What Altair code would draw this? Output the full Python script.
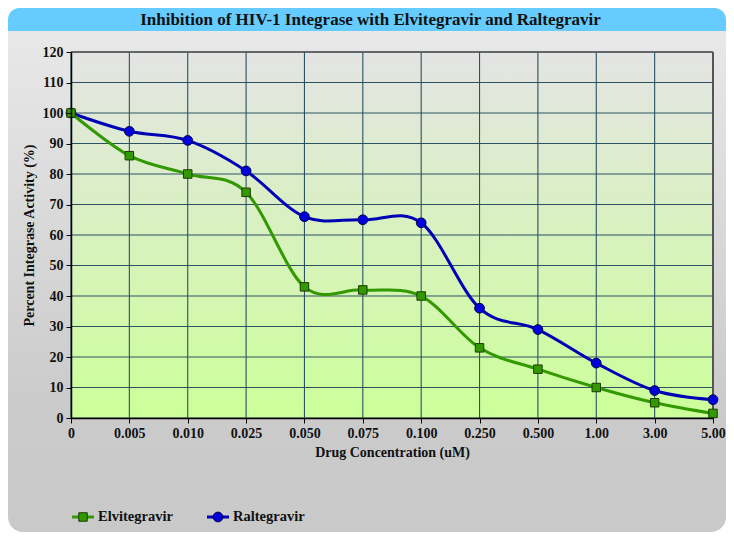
import altair as alt
import pandas as pd

# ---- data ----
concentrations = ["0", "0.005", "0.010", "0.025", "0.050", "0.075", "0.100",
                  "0.250", "0.500", "1.00", "3.00", "5.00"]
elvitegravir = [100, 86, 80, 74, 43, 42, 40, 23, 16, 10, 5, 1.5]
raltegravir = [100, 94, 91, 81, 66, 65, 64, 36, 29, 18, 9, 6]
series_names = ["Elvitegravir", "Raltegravir"]
line_colors = ["#339900", "#0000b4"]
marker_fills = ["#339900", "#0000dd"]
marker_strokes = ["#1c3d00", "#00004a"]
marker_shapes = ["square", "circle"]
marker_sizes = [72, 95]
y_ticks = list(range(0, 121, 10))
title_text = "Inhibition of HIV-1 Integrase with Elvitegravir and Raltegravir"
x_title = "Drug Concentration (uM)"
y_title = "Percent Integrase Activity (%)"

# ---- layout / style ----
W, H = 642, 366
PAD = {"left": 63, "top": 44, "right": 13, "bottom": 114}
FONT = "Liberation Serif"
GRID = "#2a5262"
TXT = "#111111"

rows = []
for name, vals in [("Raltegravir", raltegravir), ("Elvitegravir", elvitegravir)]:
    for i, (c, v) in enumerate(zip(concentrations, vals)):
        rows.append({"conc": c, "pct": v, "series": name, "idx": i})
data = pd.DataFrame(rows)
one = pd.DataFrame({"k": [0]})

x_scale = alt.Scale(type="point", padding=0, domain=concentrations)
y_scale = alt.Scale(domain=[0, 120], nice=False, zero=True)

x_axis = alt.Axis(
    title=x_title, labelAngle=0, labelFont=FONT, labelFontWeight="bold",
    labelFontSize=14, labelColor=TXT, labelPadding=3, tickSize=5,
    tickColor="#000", domainColor="#000", domainWidth=1.5, grid=False,
    titleFont=FONT, titleFontSize=14, titleFontWeight="bold", titleColor=TXT,
    titleY=34, titleBaseline="middle", zindex=1, labelOverlap=False,
)
y_axis = alt.Axis(
    title=y_title, values=y_ticks, labelFont=FONT, labelFontWeight="bold",
    labelFontSize=14, labelColor=TXT, labelPadding=3, tickSize=5,
    tickColor="#000", domainColor="#000", domainWidth=1.5, grid=False,
    titleFont=FONT, titleFontSize=14, titleFontWeight="bold", titleColor=TXT,
    titleX=-42, titleY=H / 2, titleAngle=270, titleAlign="center",
    titleBaseline="middle", zindex=1,
)

X = alt.X("conc:O", scale=x_scale, axis=x_axis)
Y = alt.Y("pct:Q", scale=y_scale, axis=y_axis)


def grad(stops):
    return alt.LinearGradient(
        gradient="linear", x1=0, y1=0, x2=0, y2=1,
        stops=[alt.GradientStop(color=c, offset=o) for o, c in stops],
    )


outer = alt.Chart(one).mark_rect(
    fill=grad([(0, "#eaeaea"), (0.75, "#cbcbcb"), (1, "#c9c9c9")]),
    cornerRadius=15,
).encode(x=alt.value(-PAD["left"]), x2=alt.value(W + PAD["right"]),
         y=alt.value(-PAD["top"]), y2=alt.value(H + PAD["bottom"]))

title_bar = alt.Chart(one).mark_rect(
    fill="#66ccff", cornerRadiusTopLeft=15, cornerRadiusTopRight=15,
).encode(x=alt.value(-PAD["left"]), x2=alt.value(W + PAD["right"]),
         y=alt.value(-PAD["top"]), y2=alt.value(-21))

title = alt.Chart(one).mark_text(
    text=title_text, font=FONT, fontWeight="bold", fontSize=17, color=TXT,
    align="center", baseline="middle",
).encode(x=alt.value(299.5), y=alt.value(-32))

plot_bg = alt.Chart(one).mark_rect(
    fill=grad([(0, "#e4e4e4"), (1, "#ccff99")]),
).encode(x=alt.value(0), x2=alt.value(W), y=alt.value(0), y2=alt.value(H))

vgrid = alt.Chart(pd.DataFrame({"conc": concentrations})).mark_rule(
    color=GRID, strokeWidth=1.1
).encode(x=X)

hgrid = alt.Chart(pd.DataFrame({"pct": y_ticks})).mark_rule(
    color=GRID, strokeWidth=1.1
).encode(y=Y)

top_border = alt.Chart(pd.DataFrame({"pct": [y_ticks[-1]]})).mark_rule(
    color="#555555", strokeWidth=1.5
).encode(y=Y)

right_border = alt.Chart(pd.DataFrame({"conc": [concentrations[-1]]})).mark_rule(
    color="#555555", strokeWidth=2
).encode(x=X)

lines = alt.Chart(data).mark_line(interpolate="cardinal", strokeWidth=3).encode(
    x=X, y=Y,
    color=alt.Color("series:N", scale=alt.Scale(domain=series_names, range=line_colors), legend=None),
    order=alt.Order("idx:Q"),
)

points = alt.Chart(data).mark_point(filled=True, strokeWidth=1, opacity=1).encode(
    x=X, y=Y,
    fill=alt.Fill("series:N", scale=alt.Scale(domain=series_names, range=marker_fills), legend=None),
    stroke=alt.Stroke("series:N", scale=alt.Scale(domain=series_names, range=marker_strokes), legend=None),
    shape=alt.Shape("series:N", scale=alt.Scale(domain=series_names, range=marker_shapes), legend=None),
    size=alt.Size("series:N", scale=alt.Scale(domain=series_names, range=marker_sizes), legend=None),
)

legend_layers = []
LEG_Y = 465
for i, name in enumerate(series_names):
    x0 = 1 + 135 * i
    legend_layers.append(
        alt.Chart(one).mark_rule(color=line_colors[i], strokeWidth=3).encode(
            x=alt.value(x0), x2=alt.value(x0 + 22), y=alt.value(LEG_Y)))
    legend_layers.append(
        alt.Chart(one).mark_point(
            filled=True, shape=marker_shapes[i], size=marker_sizes[i],
            fill=marker_fills[i], stroke=marker_strokes[i], strokeWidth=1, opacity=1,
        ).encode(x=alt.value(x0 + 11), y=alt.value(LEG_Y)))
    legend_layers.append(
        alt.Chart(one).mark_text(
            text=name, font=FONT, fontWeight="bold", fontSize=14.5, color=TXT,
            align="left", baseline="middle",
        ).encode(x=alt.value(x0 + 26), y=alt.value(LEG_Y)))

chart = alt.layer(
    outer, title_bar, title, plot_bg, vgrid, hgrid, top_border, right_border,
    lines, points, *legend_layers,
).properties(
    width=W, height=H,
    autosize=alt.AutoSizeParams(type="none"),
    padding=PAD,
    background="transparent",
).configure_view(stroke=None)

chart.save("out.html", embed_options={"renderer": "svg", "actions": False})
